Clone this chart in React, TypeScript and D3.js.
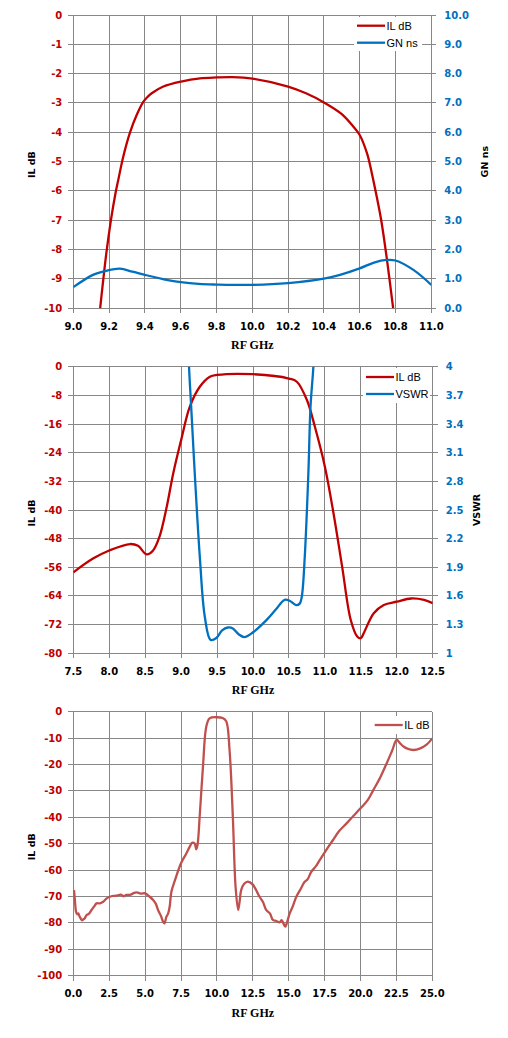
import * as d3 from 'd3';

// panel 1: passband IL and group delay
const il1F = [9.15, 9.185, 9.21, 9.235, 9.251, 9.279, 9.317, 9.354, 9.391, 9.415, 9.438, 9.503, 9.602, 9.708, 9.8, 9.89, 10.0, 10.2, 10.3, 10.4, 10.5, 10.565, 10.6, 10.641, 10.668, 10.695, 10.72, 10.75, 10.787];
const il1V = [-10, -8.1, -7.0, -6.1, -5.63, -4.83, -4.0, -3.41, -2.96, -2.79, -2.67, -2.44, -2.27, -2.16, -2.13, -2.12, -2.17, -2.44, -2.67, -2.98, -3.38, -3.81, -4.09, -4.72, -5.4, -6.19, -6.99, -8.24, -10];
const gn1F = [9.0, 9.11, 9.185, 9.26, 9.33, 9.4, 9.52, 9.6, 9.7, 9.8, 10.0, 10.2, 10.4, 10.49, 10.6, 10.68, 10.75, 10.8, 10.9, 11.0];
const gn1V = [0.72, 1.14, 1.28, 1.35, 1.25, 1.14, 0.97, 0.89, 0.83, 0.81, 0.80, 0.86, 1.01, 1.14, 1.36, 1.56, 1.65, 1.63, 1.31, 0.80];
const x1Ticks = [9.0, 9.2, 9.4, 9.6, 9.8, 10.0, 10.2, 10.4, 10.6, 10.8, 11.0];
const y1Ticks = [0, -1, -2, -3, -4, -5, -6, -7, -8, -9, -10];
const y1RTicks = [0, 1, 2, 3, 4, 5, 6, 7, 8, 9, 10];

// panel 2: IL and VSWR
const il2F = [7.5, 7.78, 8.0, 8.29, 8.4, 8.52, 8.61, 8.7, 8.8, 8.89, 9.0, 9.12, 9.26, 9.4, 9.5, 10.0, 10.5, 10.61, 10.75, 10.86, 11.0, 11.12, 11.24, 11.36, 11.45, 11.5, 11.54, 11.68, 11.82, 12.0, 12.2, 12.38, 12.5];
const il2V = [-57.4, -53.5, -51.3, -49.5, -50.0, -52.4, -51.3, -47.4, -39.1, -29.8, -20.5, -11.2, -5.6, -2.8, -2.3, -2.1, -3.3, -4.2, -9.3, -16.7, -27.9, -40.9, -55.8, -70.7, -75.3, -75.8, -74.4, -68.8, -66.5, -65.6, -64.7, -65.1, -66];
const vsF = [9.08, 9.11, 9.14, 9.19, 9.26, 9.33, 9.41, 9.49, 9.57, 9.65, 9.72, 9.8, 9.88, 10.0, 10.19, 10.32, 10.44, 10.52, 10.6, 10.65, 10.68, 10.72, 10.77, 10.8, 10.84, 10.87];
const vsV = [4.7, 4.0, 3.58, 2.88, 2.01, 1.38, 1.14, 1.16, 1.24, 1.27, 1.26, 1.2, 1.17, 1.22, 1.35, 1.46, 1.56, 1.545, 1.505, 1.52, 1.6, 2.01, 2.88, 3.58, 4.0, 4.5];
const x2Ticks = [7.5, 8.0, 8.5, 9.0, 9.5, 10.0, 10.5, 11.0, 11.5, 12.0, 12.5];
const y2Ticks = [0, -8, -16, -24, -32, -40, -48, -56, -64, -72, -80];
const y2RTicks = [1, 1.3, 1.6, 1.9, 2.2, 2.5, 2.8, 3.1, 3.4, 3.7, 4];

// panel 3: wideband IL
const il3F = [
  0.05, 0.12, 0.19, 0.27, 0.35, 0.43, 0.51, 0.6, 0.69, 0.8,
  0.93, 1.1, 1.27, 1.45, 1.62, 1.85, 2.08, 2.3, 2.55, 2.8,
  3.0, 3.3, 3.5, 3.7, 4.0, 4.2, 4.4, 4.7, 5.0, 5.3,
  5.56, 5.75, 5.9, 6.1, 6.25, 6.35, 6.48, 6.6, 6.71, 6.83,
  7.1, 7.5, 7.87, 8.1, 8.29, 8.45, 8.56, 8.65, 8.8, 9.03,
  9.26, 9.49, 10.0, 10.4, 10.65, 10.88, 11.11, 11.3, 11.48, 11.58,
  11.69, 11.9, 12.15, 12.5, 12.97, 13.2, 13.43, 13.7, 13.9, 14.1,
  14.36, 14.5, 14.76, 14.9, 15.07, 15.3, 15.53, 15.8, 16.11, 16.3,
  16.58, 16.9, 17.16, 17.6, 18.09, 18.5, 19.03, 19.5, 20.0, 20.5,
  20.89, 21.4, 21.82, 22.2, 22.52, 22.76, 23.0, 23.22, 23.69, 24.16,
  24.6, 25.0,
];
const il3V = [
  -67.6, -72, -75.8, -76.8, -76.4, -77.5, -78.3, -79, -78.7, -78.2,
  -77, -76.5, -75.1, -73.8, -72.6, -72.6, -72, -70.8, -70.1, -69.8,
  -69.7, -69.3, -69.9, -69.4, -69.3, -68.7, -68.4, -68.9, -68.8, -70,
  -71.3, -72.8, -75.1, -77.3, -79.5, -80.2, -77.7, -76.5, -73.9, -68.2,
  -63.5, -57.4, -53.7, -51.2, -49.6, -49.9, -52.1, -50.5, -39.8, -20.8,
  -5.7, -2.5, -2.1, -2.4, -3.6, -14.5, -39.8, -66.3, -75.1, -72,
  -67.6, -65.2, -64.4, -65.5, -70.1, -72, -75.1, -76.5, -78.9, -79.2,
  -79.8, -79.0, -81.4, -79.5, -76.4, -73.5, -70.1, -67.5, -64.4, -63.6,
  -60.6, -58.5, -56.2, -52.5, -48.6, -45.3, -42.3, -39.5, -36.6, -33.5,
  -29.7, -24.6, -19.6, -14.8, -10.7, -12, -13.2, -13.9, -14.5, -13.9,
  -12.5, -10.1,
];
const x3Ticks = [0, 2.5, 5, 7.5, 10, 12.5, 15, 17.5, 20, 22.5, 25];
const y3Ticks = [0, -10, -20, -30, -40, -50, -60, -70, -80, -90, -100];

const GRID = '#878787';
const RED = '#C00000';
const BLUE = '#0070C0';
const RED3 = '#C0504D';
const TICK_FONT = { fontFamily: 'DejaVu Sans', fontWeight: 'bold', fontSize: 10 } as const;
const TITLE_FONT = { fontFamily: 'DejaVu Sans', fontWeight: 'bold', fontSize: 9.5 } as const;
const LEG_FONT = { fontFamily: 'Liberation Sans', fontSize: 11 } as const;

type Series = { f: number[]; v: number[]; color: string; right?: boolean; name: string };

type PanelProps = {
  id: string;
  left: number;
  right: number;
  top: number;
  bottom: number;
  xTicks: number[];
  xFmt: (d: number) => string;
  yTicks: number[];
  yTitle: string;
  yColor: string;
  rTicks?: number[];
  rFmt?: (d: number) => string;
  rTitle?: string;
  rTitleX?: number;
  series: Series[];
  legendX: number;
  legendY: number;
  legendBox: [number, number, number, number];
};

function Panel(p: PanelProps) {
  const x = d3.scaleLinear([p.xTicks[0], p.xTicks[p.xTicks.length - 1]], [p.left, p.right]);
  const y = d3.scaleLinear([d3.min(p.yTicks)!, d3.max(p.yTicks)!], [p.bottom, p.top]);
  const yr = p.rTicks
    ? d3.scaleLinear([d3.min(p.rTicks)!, d3.max(p.rTicks)!], [p.bottom, p.top])
    : y;
  const midY = (p.top + p.bottom) / 2;
  return (
    <g>
      <defs>
        <clipPath id={p.id}>
          <rect x={p.left} y={p.top} width={p.right - p.left} height={p.bottom - p.top} />
        </clipPath>
      </defs>
      {/* grid */}
      <g stroke={GRID} strokeWidth={1} shapeRendering="crispEdges">
        {p.xTicks.map((t) => (
          <line key={'gx' + t} x1={x(t)} x2={x(t)} y1={p.top} y2={p.bottom + 5} />
        ))}
        {p.yTicks.map((t) => (
          <line key={'gy' + t} x1={p.left - 5} x2={p.right} y1={y(t)} y2={y(t)} />
        ))}
        {p.rTicks &&
          p.rTicks.map((t) => (
            <line key={'gr' + t} x1={p.right} x2={p.right + 5} y1={yr(t)} y2={yr(t)} />
          ))}
      </g>
      {/* tick labels */}
      <g {...TICK_FONT} fill="#000" textAnchor="middle">
        {p.xTicks.map((t) => (
          <text key={'lx' + t} x={x(t)} y={p.bottom + 17.7} dy="0.35em">
            {p.xFmt(t)}
          </text>
        ))}
      </g>
      <g {...TICK_FONT} fill={p.yColor} textAnchor="end">
        {p.yTicks.map((t) => (
          <text key={'ly' + t} x={p.left - 11} y={y(t)} dy="0.35em">
            {t}
          </text>
        ))}
      </g>
      {p.rTicks && (
        <g {...TICK_FONT} fill={BLUE} textAnchor="start">
          {p.rTicks.map((t) => (
            <text key={'lr' + t} x={p.right + 13} y={yr(t)} dy="0.35em">
              {p.rFmt ? p.rFmt(t) : t}
            </text>
          ))}
        </g>
      )}
      {/* axis titles */}
      <text
        x={(p.left + p.right) / 2}
        y={p.bottom + 41}
        textAnchor="middle"
        fontFamily="Liberation Serif"
        fontWeight="bold"
        fontSize={12}
      >
        RF GHz
      </text>
      <text
        {...TITLE_FONT}
        textAnchor="middle"
        transform={`translate(${31 + 3.5},${midY + 3}) rotate(-90)`}
      >
        IL dB
      </text>
      {p.rTitle && (
        <text
          {...TITLE_FONT}
          textAnchor="middle"
          transform={`translate(${p.rTitleX! + 3.5},${midY}) rotate(-90)`}
        >
          {p.rTitle}
        </text>
      )}
      {/* series */}
      <g clipPath={`url(#${p.id})`}>
        {p.series.map((s) => {
          const sy = s.right ? yr : y;
          const line = d3
            .line<number>()
            .x((d, i) => x(s.f[i]))
            .y((d) => sy(d))
            .curve(d3.curveCatmullRom.alpha(0.5));
          return (
            <path
              key={s.name}
              d={line(s.v) ?? undefined}
              fill="none"
              stroke={s.color}
              strokeWidth={2.3}
              strokeLinejoin="round"
            />
          );
        })}
      </g>
      {/* legend */}
      <rect
        x={p.legendBox[0]}
        y={p.legendBox[1]}
        width={p.legendBox[2]}
        height={p.legendBox[3]}
        fill="#fff"
      />
      {p.series.map((s, i) => (
        <g key={'lg' + s.name}>
          <line
            x1={p.legendX}
            x2={p.legendX + 28}
            y1={p.legendY + i * 17}
            y2={p.legendY + i * 17}
            stroke={s.color}
            strokeWidth={2.3}
          />
          <text {...LEG_FONT} x={p.legendX + 29.5} y={p.legendY + i * 17} dy="0.35em" fill="#000">
            {s.name}
          </text>
        </g>
      ))}
    </g>
  );
}

function App() {
  const f1 = d3.format('.1f');
  return (
    <svg
      width={508}
      height={1038}
      style={{ position: 'absolute', left: 0, top: 0, background: '#fff' }}
    >
      <Panel
        id="c1"
        left={73.3}
        right={431.3}
        top={15}
        bottom={308.3}
        xTicks={x1Ticks}
        xFmt={f1}
        yTicks={y1Ticks}
        yTitle="IL dB"
        yColor={RED}
        rTicks={y1RTicks}
        rFmt={f1}
        rTitle="GN ns"
        rTitleX={484}
        series={[
          { f: il1F, v: il1V, color: RED, name: 'IL dB' },
          { f: gn1F, v: gn1V, color: BLUE, right: true, name: 'GN ns' },
        ]}
        legendX={357}
        legendY={25.7}
        legendBox={[354, 17, 68, 34]}
      />
      <Panel
        id="c2"
        left={73.3}
        right={432.7}
        top={366.7}
        bottom={653.3}
        xTicks={x2Ticks}
        xFmt={f1}
        yTicks={y2Ticks}
        yTitle="IL dB"
        yColor={RED}
        rTicks={y2RTicks}
        rFmt={(d) => String(d)}
        rTitle="VSWR"
        rTitleX={476}
        series={[
          { f: il2F, v: il2V, color: RED, name: 'IL dB' },
          { f: vsF, v: vsV, color: BLUE, right: true, name: 'VSWR' },
        ]}
        legendX={366}
        legendY={377}
        legendBox={[363, 368, 67, 35]}
      />
      <Panel
        id="c3"
        left={73.3}
        right={432.3}
        top={711.7}
        bottom={975.7}
        xTicks={x3Ticks}
        xFmt={f1}
        yTicks={y3Ticks}
        yTitle="IL dB"
        yColor={RED}
        series={[{ f: il3F, v: il3V, color: RED3, name: 'IL dB' }]}
        legendX={374.7}
        legendY={725}
        legendBox={[372, 716, 58, 18]}
      />
    </svg>
  );
}

export default App;
